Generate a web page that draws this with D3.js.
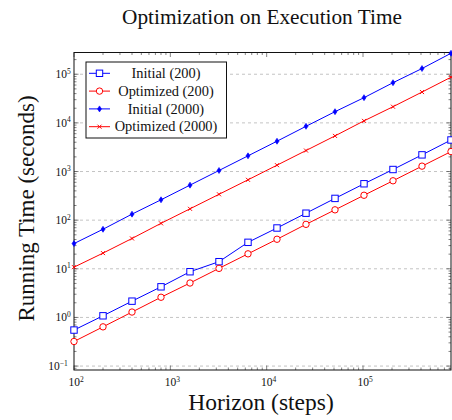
<!DOCTYPE html>
<html>
<head>
<meta charset="utf-8">
<script src="https://cdn.jsdelivr.net/npm/d3@7"></script>
<style>
  body { margin: 0; background: #fff; }
  svg text { font-family: "Liberation Serif", "DejaVu Serif", serif; fill: #111; }
</style>
</head>
<body>
<div id="chart"></div>
<script>

// horizon values (steps)
var horizons = [100, 200, 400, 800, 1600, 3200, 6400, 12800, 25600, 51200, 102400, 204800, 409600, 819200]

var initial200 = [0.55, 1.08, 2.16, 4.26, 8.7, 14, 35, 69, 139, 280, 560, 1100, 2200, 4450]
var optimized200 = [0.32, 0.64, 1.29, 2.6, 5.1, 10.2, 20.3, 40.5, 82, 163, 325, 645, 1290, 2570]
var initial2000 = [33, 65, 133, 262, 525, 1050, 2100, 4200, 8500, 17000, 33000, 67000, 131000, 270000]
var optimized2000 = [10.8, 21, 42, 86, 171, 340, 675, 1350, 2700, 5400, 11000, 21500, 43000, 87000]

var seriesNames = ["Initial (200)", "Optimized (200)", "Initial (2000)", "Optimized (2000)"]
var seriesValues = [initial200, optimized200, initial2000, optimized2000]
var seriesColors = ["#0000ff", "#ff0000", "#0000ff", "#ff0000"]
var seriesMarkers = ["square", "circle", "diamond", "cross"]

var xTicks = [1e2, 1e3, 1e4, 1e5]
var yTicks = [1e-1, 1e0, 1e1, 1e2, 1e3, 1e4, 1e5]

var width = 452, height = 420
var margin = {top: 52.5, right: 1, bottom: 50, left: 74}

var svg = d3.select("#chart").append("svg")
    .attr("width", width)
    .attr("height", height)

var x = d3.scaleLog()
    .domain([100, 819200])
    .range([margin.left, width - margin.right])

var y = d3.scaleLog()
    .domain([0.083, 2.8e5])
    .range([height - margin.bottom, margin.top])

var x0 = margin.left, x1 = width - margin.right
var y0 = height - margin.bottom, y1 = margin.top

// grid lines
svg.append("g")
    .selectAll("line")
    .data(yTicks)
    .enter().append("line")
    .attr("x1", x0)
    .attr("x2", x1)
    .attr("y1", d => y(d))
    .attr("y2", d => y(d))
    .attr("stroke", "#b4b4b4")
    .attr("stroke-width", 0.8)
    .attr("stroke-dasharray", "3 3")

// minor ticks
var minorX = []
for (var e = 2; e <= 5; e++) {
    for (var m = 1; m <= 9; m++) {
        var v = m * Math.pow(10, e)
        if (v >= 100 && v <= 819200) minorX.push(v)
    }
}
var minorY = []
for (var e = -2; e <= 5; e++) {
    for (var m = 1; m <= 9; m++) {
        var v = m * Math.pow(10, e)
        if (v >= 0.083 && v <= 2.8e5) minorY.push(v)
    }
}

function tickLen(v, major) { return major ? 4.5 : 2.5 }

var ticks = svg.append("g")
    .attr("stroke", "#333")
    .attr("stroke-width", 0.6)

minorX.forEach(function(v) {
    var major = xTicks.indexOf(v) >= 0
    var l = tickLen(v, major)
    ticks.append("line").attr("x1", x(v)).attr("x2", x(v)).attr("y1", y0).attr("y2", y0 - l)
    ticks.append("line").attr("x1", x(v)).attr("x2", x(v)).attr("y1", y1).attr("y2", y1 + l)
})

minorY.forEach(function(v) {
    var major = yTicks.some(t => Math.abs(t - v) / t < 1e-9)
    var l = tickLen(v, major)
    ticks.append("line").attr("y1", y(v)).attr("y2", y(v)).attr("x1", x0).attr("x2", x0 + l)
    ticks.append("line").attr("y1", y(v)).attr("y2", y(v)).attr("x1", x1).attr("x2", x1 - l)
})

// frame
svg.append("rect")
    .attr("x", x0)
    .attr("y", y1)
    .attr("width", x1 - x0)
    .attr("height", y0 - y1)
    .attr("fill", "none")
    .attr("stroke", "#111")
    .attr("stroke-width", 1)

// tick labels
function powLabel(sel, exp) {
    sel.append("tspan").text("10")
    sel.append("tspan")
        .attr("dy", -4.5)
        .attr("font-size", 7.5)
        .text(exp < 0 ? "\u2212" + (-exp) : exp)
}

xTicks.forEach(function(v) {
    var t = svg.append("text")
        .attr("x", x(v) + 2)
        .attr("y", y0 + 16)
        .attr("text-anchor", "middle")
        .attr("font-size", 11.5)
    powLabel(t, Math.round(Math.log10(v)))
})

yTicks.forEach(function(v) {
    var exp = Math.round(Math.log10(v))
    var t = svg.append("text")
        .attr("x", x0 - (exp < 0 ? 16 : 11))
        .attr("y", y(v) + 4)
        .attr("text-anchor", "middle")
        .attr("font-size", 11.5)
    powLabel(t, exp)
})

// series
var line = d3.line()
    .x((d, i) => x(horizons[i]))
    .y(d => y(d))

seriesValues.forEach(function(vals, s) {
    var c = seriesColors[s]
    svg.append("path")
        .datum(vals)
        .attr("d", line)
        .attr("fill", "none")
        .attr("stroke", c)
        .attr("stroke-width", 1)

    var g = svg.append("g")
    vals.forEach(function(d, i) {
        drawMarker(g, seriesMarkers[s], x(horizons[i]), y(d), c)
    })
})

function drawMarker(g, type, cx, cy, c) {
    if (type === "square") {
        g.append("rect").attr("x", cx - 3.2).attr("y", cy - 3.2).attr("width", 6.4).attr("height", 6.4)
            .attr("fill", "#fff").attr("stroke", c).attr("stroke-width", 1)
    } else if (type === "circle") {
        g.append("circle").attr("cx", cx).attr("cy", cy).attr("r", 3.2)
            .attr("fill", "#fff").attr("stroke", c).attr("stroke-width", 1)
    } else if (type === "diamond") {
        g.append("path")
            .attr("d", "M" + cx + "," + (cy - 3) + "L" + (cx + 2) + "," + cy + "L" + cx + "," + (cy + 3) + "L" + (cx - 2) + "," + cy + "Z")
            .attr("fill", c).attr("stroke", c).attr("stroke-width", 0.6)
    } else {
        g.append("path")
            .attr("d", "M" + (cx - 2) + "," + (cy - 2) + "L" + (cx + 2) + "," + (cy + 2) + "M" + (cx - 2) + "," + (cy + 2) + "L" + (cx + 2) + "," + (cy - 2))
            .attr("stroke", c).attr("stroke-width", 1)
    }
}

// legend
var lg = svg.append("g")
lg.append("rect")
    .attr("x", 86)
    .attr("y", 62)
    .attr("width", 140.5)
    .attr("height", 76)
    .attr("fill", "#fff")
    .attr("stroke", "#111")
    .attr("stroke-width", 1)

seriesNames.forEach(function(name, s) {
    var ly = 73.3 + s * 17.8
    lg.append("line")
        .attr("x1", 89).attr("x2", 110)
        .attr("y1", ly).attr("y2", ly)
        .attr("stroke", seriesColors[s])
        .attr("stroke-width", 1)
    drawMarker(lg, seriesMarkers[s], 99.5, ly, seriesColors[s])
    lg.append("text")
        .attr("x", 166)
        .attr("y", ly + 4.6)
        .attr("text-anchor", "middle")
        .attr("font-size", 14.4)
        .text(name)
})

// title and axis labels
svg.append("text")
    .attr("x", 262)
    .attr("y", 24)
    .attr("text-anchor", "middle")
    .attr("font-size", 21.3)
    .text("Optimization on Execution Time")

svg.append("text")
    .attr("x", 261)
    .attr("y", 410)
    .attr("text-anchor", "middle")
    .attr("font-size", 23.5)
    .text("Horizon (steps)")

svg.append("text")
    .attr("transform", "translate(34," + 208.5 + ") rotate(-90)")
    .attr("text-anchor", "middle")
    .attr("font-size", 23)
    .text("Running Time (seconds)")

</script>
</body>
</html>
